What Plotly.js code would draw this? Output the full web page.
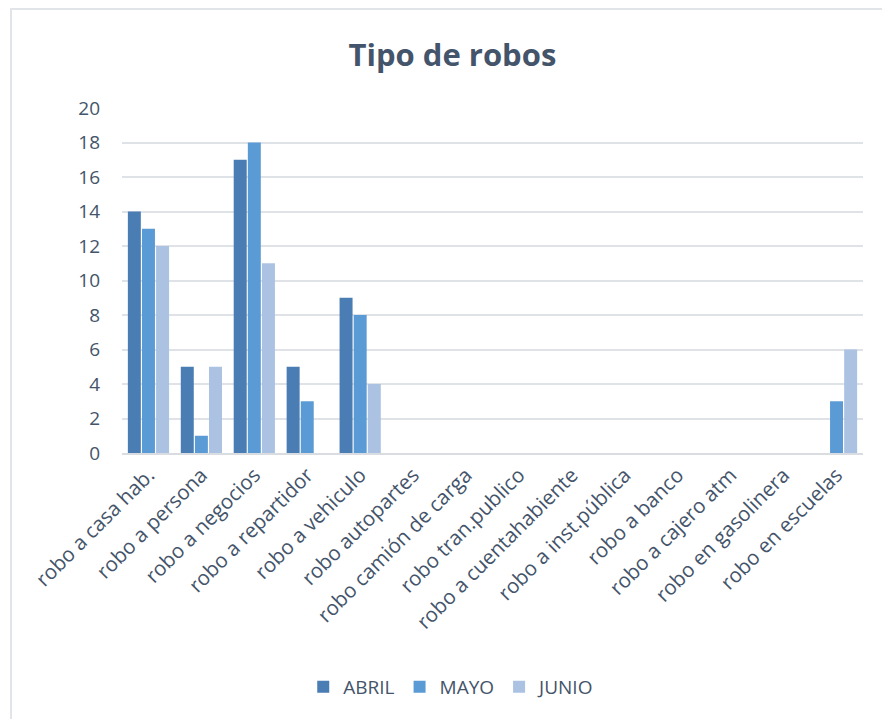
<!DOCTYPE html>
<html>
<head>
<meta charset="utf-8">
<script src="https://cdn.plot.ly/plotly-3.0.1.min.js"></script>
<style>
  html, body { margin: 0; padding: 0; background: #fff; }
  #wrap { position: relative; width: 882px; height: 719px; }
  #chart { width: 882px; height: 719px; }
  #frame { position: absolute; left: 10px; top: 8px; width: 880px; height: 720px;
           border-left: 2px solid #e1e5ea; border-top: 2px solid #e1e5ea; pointer-events: none; }
</style>
</head>
<body>
<div id="wrap">
  <div id="chart"></div>
  <div id="frame"></div>
</div>
<script>
const categories = [
  "robo a casa hab.", "robo a persona", "robo a negocios", "robo a repartidor",
  "robo a vehiculo", "robo autopartes", "robo camión de carga", "robo tran.publico",
  "robo a cuentahabiente", "robo a inst.pública", "robo a banco", "robo a cajero atm",
  "robo en gasolinera", "robo en escuelas"
];
const abril = [14, 5, 17, 5, 9, 0, 0, 0, 0, 0, 0, 0, 0, 0];
const mayo  = [13, 1, 18, 3, 8, 0, 0, 0, 0, 0, 0, 0, 0, 3];
const junio = [12, 5, 11, 0, 4, 0, 0, 0, 0, 0, 0, 0, 0, 6];
const seriesNames = ["ABRIL", "MAYO", "JUNIO"];
const yTicks = [0, 2, 4, 6, 8, 10, 12, 14, 16, 18, 20];

const colors = ["#4a7db3", "#5b9bd5", "#abc2e3"];
const txt = "#44546a";
const font = "Open Sans, Noto Sans, sans-serif";

const data = [abril, mayo, junio].map((vals, i) => ({
  type: "bar",
  name: seriesNames[i],
  x: categories,
  y: vals,
  marker: { color: colors[i], line: { width: 0 } },
  hoverinfo: "x+y+name"
}));

const layout = {
  width: 882, height: 719,
  paper_bgcolor: "#ffffff", plot_bgcolor: "#ffffff",
  margin: { l: 122, r: 19, t: 108, b: 266 },
  title: {
    text: "<b>Tipo de robos</b>",
    font: { family: font, size: 31, color: txt },
    x: 0.513, xanchor: "center", y: 0.923, yanchor: "middle"
  },
  barmode: "group",
  bargap: 0.2,
  bargroupgap: 0.08,
  showlegend: true,
  legend: {
    orientation: "h", x: 0.445, xanchor: "center", y: -0.678, yanchor: "middle",
    font: { family: font, size: 19, color: txt },
    itemwidth: 30, traceorder: "normal"
  },
  xaxis: {
    type: "category",
    automargin: false,
    tickangle: -45,
    tickfont: { family: font, size: 20.5, color: txt },
    showgrid: false, zeroline: false,
    showline: true, linecolor: "#d9dde2", linewidth: 2,
    ticks: ""
  },
  yaxis: {
    range: [0, 20],
    automargin: false,
    tickvals: yTicks,
    ticktext: yTicks.map(String),
    tickfont: { family: font, size: 19, color: txt },
    showgrid: true, gridcolor: "#dfe3e8", gridwidth: 2,
    zeroline: false, showline: false,
    ticks: "", ticklabelstandoff: 21
  },
  font: { family: font, color: txt }
};

Plotly.newPlot("chart", data, layout, { displayModeBar: false, staticPlot: true });
</script>
</body>
</html>
